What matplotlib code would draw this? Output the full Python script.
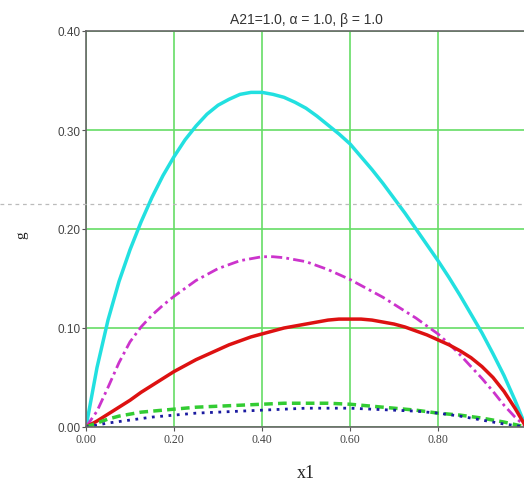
import numpy as np
import matplotlib
matplotlib.use("Agg")
import matplotlib.pyplot as plt
from matplotlib.lines import Line2D

# values
x1 = [0.000, 0.025, 0.050, 0.075, 0.100, 0.125, 0.150, 0.175, 0.200, 0.225,
      0.250, 0.275, 0.300, 0.325, 0.350, 0.375, 0.400, 0.425, 0.450, 0.475,
      0.500, 0.525, 0.550, 0.575, 0.600, 0.625, 0.650, 0.675, 0.700, 0.725,
      0.750, 0.775, 0.800, 0.825, 0.850, 0.875, 0.900, 0.925, 0.950, 0.975, 1.000]
g_cyan = [0.000, 0.060, 0.108, 0.147, 0.179, 0.207, 0.232, 0.254, 0.273, 0.290,
          0.304, 0.316, 0.325, 0.331, 0.336, 0.338, 0.338, 0.336, 0.333, 0.328,
          0.322, 0.314, 0.305, 0.296, 0.286, 0.273, 0.260, 0.246, 0.231, 0.216,
          0.200, 0.184, 0.168, 0.151, 0.133, 0.114, 0.095, 0.074, 0.052, 0.027, 0.000]
g_magenta = [0.000, 0.016, 0.040, 0.065, 0.086, 0.101, 0.113, 0.123, 0.132, 0.140,
             0.148, 0.154, 0.160, 0.164, 0.168, 0.170, 0.172, 0.172, 0.171, 0.169,
             0.167, 0.163, 0.159, 0.154, 0.149, 0.143, 0.137, 0.131, 0.124, 0.117,
             0.110, 0.102, 0.094, 0.084, 0.073, 0.061, 0.049, 0.036, 0.022, 0.010, 0.000]
g_red = [0.000, 0.006, 0.013, 0.020, 0.027, 0.035, 0.042, 0.049, 0.056, 0.062,
         0.068, 0.073, 0.078, 0.083, 0.087, 0.091, 0.094, 0.097, 0.100, 0.102,
         0.104, 0.106, 0.108, 0.109, 0.109, 0.109, 0.108, 0.106, 0.104, 0.101,
         0.097, 0.093, 0.088, 0.083, 0.077, 0.070, 0.061, 0.050, 0.036, 0.019, 0.000]
g_green = [0.000, 0.004, 0.008, 0.011, 0.013, 0.015, 0.016, 0.017, 0.018, 0.019,
           0.020, 0.0205, 0.021, 0.0215, 0.022, 0.0225, 0.023, 0.0235, 0.024, 0.024,
           0.024, 0.024, 0.024, 0.0235, 0.023, 0.022, 0.021, 0.020, 0.019, 0.018,
           0.017, 0.0155, 0.014, 0.013, 0.012, 0.0105, 0.009, 0.007, 0.005, 0.0025, 0.000]
g_blue = [0.000, 0.002, 0.004, 0.0055, 0.007, 0.0085, 0.010, 0.011, 0.012, 0.013,
          0.014, 0.0145, 0.015, 0.0155, 0.016, 0.0165, 0.017, 0.0175, 0.018, 0.0185,
          0.019, 0.019, 0.019, 0.019, 0.019, 0.0185, 0.018, 0.0175, 0.017, 0.0165,
          0.016, 0.015, 0.014, 0.0125, 0.011, 0.009, 0.007, 0.005, 0.003, 0.0015, 0.000]

xticks = [0.0, 0.2, 0.4, 0.6, 0.8]
yticks = [0.0, 0.1, 0.2, 0.3, 0.4]

fig = plt.figure(figsize=(5.24, 4.85), dpi=100)
ax = fig.add_axes([86/524, 57/485, 440/524, 396/485])

ax.plot(x1, g_cyan, color='#22e0e0', lw=2.5, solid_joinstyle='round')
ax.plot(x1, g_magenta, color='#cc33cc', lw=2, ls=(0, (4, 1.5, 1, 1.5)))
ax.plot(x1, g_red, color='#dd1111', lw=2.5, solid_joinstyle='round')
ax.plot(x1, g_green, color='#33cc33', lw=2.5, ls=(0, (2.5, 1.5)))
ax.plot(x1, g_blue, color='#1a1aa0', lw=2, ls=(0, (1, 2)))

ax.set_xlim(0, 1.0)
ax.set_ylim(0, 0.4)
ax.set_xticks(xticks)
ax.set_yticks(yticks)
ax.set_xticklabels([f"{v:.2f}" for v in xticks], family='Liberation Serif')
ax.set_yticklabels([f"{v:.2f}" for v in yticks], family='Liberation Sans')
ax.grid(True, color='#66dd66', lw=1.2)
ax.set_axisbelow(True)
ax.tick_params(labelsize=8.5, labelcolor='#444444', color='#555555', length=3, pad=1)
for s in ax.spines.values():
    s.set_color('#666666')
    s.set_linewidth(1.2)

ax.set_title("A21=1.0, \u03b1 = 1.0, \u03b2 = 1.0", family='Liberation Sans',
             fontsize=10, color='#333333', pad=6)
ax.set_xlabel("x1", family='Liberation Serif', fontsize=13, color='#222222', labelpad=14)
fig.text(22/524, 1 - 235/485, "g", family='Liberation Serif', fontsize=11,
         rotation=90, ha='center', va='center', color='#222222')

# thin dashed guide across the whole picture
fig.add_artist(Line2D([0, 1], [1 - 205/485, 1 - 205/485], transform=fig.transFigure,
                      color='#bbbbbb', lw=0.9, ls=(0, (3, 3))))

fig.savefig("out.png", dpi=100)
